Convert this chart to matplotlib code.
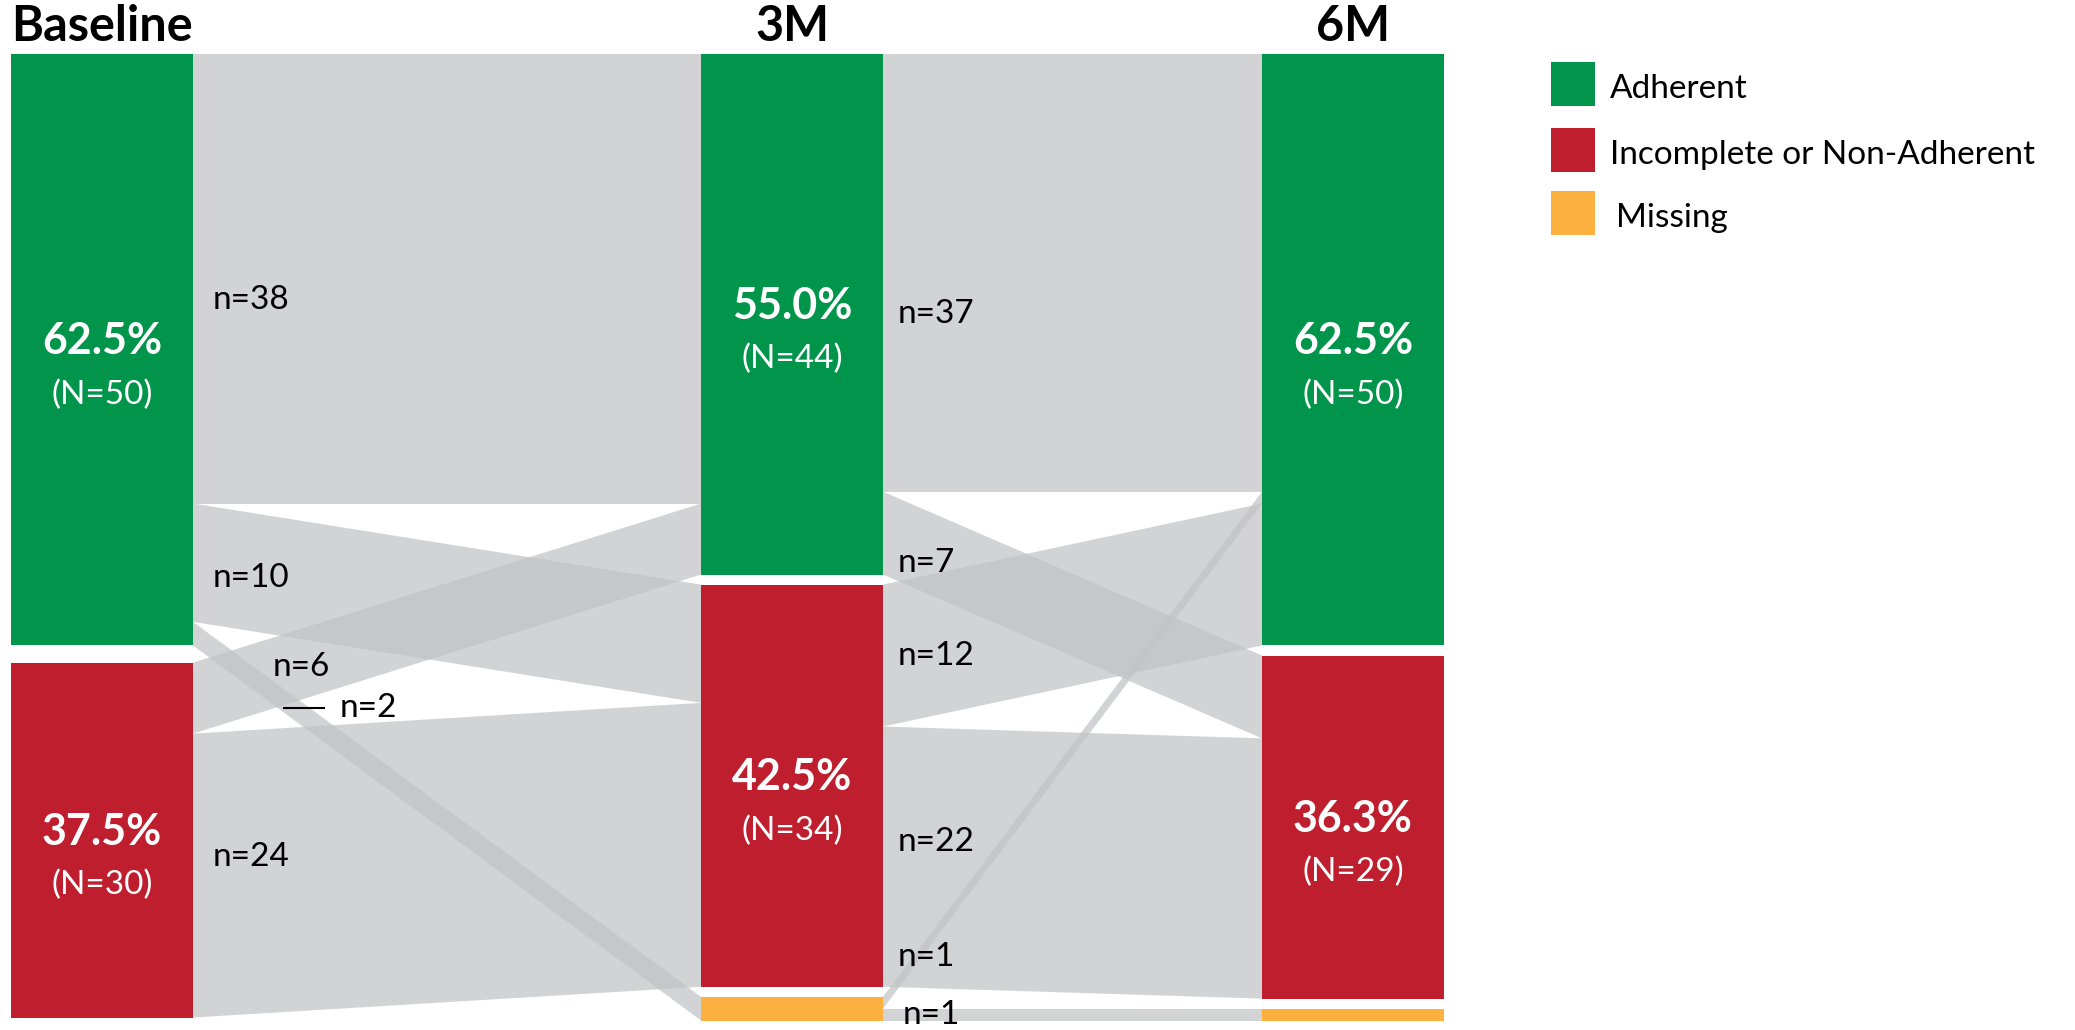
"""
Adherence transitions over follow-up (Baseline -> 3M -> 6M), drawn as a
straight-band alluvial chart.
"""

import math

import matplotlib.pyplot as plt
from matplotlib.patches import Polygon, Rectangle

STAGES = ["Baseline", "3M", "6M"]
STATUSES = ["Adherent", "Incomplete or Non-Adherent", "Missing"]

# patients in each status at each stage (same order as STATUSES)
BASELINE_COUNTS = [50, 30, 0]
M3_COUNTS = [44, 34, 2]
M6_COUNTS = [50, 29, 1]

# transitions: rows = status before, columns = status after
FLOWS_BASELINE_TO_3M = [
    [38, 10, 2],
    [6, 24, 0],
    [0, 0, 0],
]
FLOWS_3M_TO_6M = [
    [37, 7, 0],
    [12, 22, 0],
    [1, 0, 1],
]

STATUS_COLORS = ["#00954A", "#BE1E2D", "#FBB040"]
FLOW_COLOR = (193 / 255, 195 / 255, 197 / 255)
FLOW_ALPHA = 0.72

# layout, x in pixels, y in patients
FIG_W, FIG_H = 2075, 1030
PX_PER_PATIENT = 11.83
TOP_PX = 54
BAR_LEFT = [11, 701, 1262]
BAR_WIDTH = 182
NODE_GAP = [1.45, 0.85, 0.85]
LABEL_PAD = 20

# order in which incoming bands are stacked inside a node (stage, status)
INCOMING_ORDER = {(2, 0): [0, 2, 1]}

# hand tweaks for flow labels: (step, src, dst) -> (dx px, dy patients)
LABEL_NUDGE = {
    (0, 0, 0): (0, 1.8),
    (0, 0, 1): (0, 1.3),
    (0, 1, 0): (60, -2.6),
    (0, 1, 1): (0, -1.6),
    (1, 0, 0): (-5, 3.5),
    (1, 0, 1): (-5, 2.5),
    (1, 1, 0): (-5, 0),
    (1, 1, 1): (-5, -1.2),
    (1, 2, 0): (-5, -3.9),
    (1, 2, 1): (-8, 0),
}


def px_to_y(px: float) -> float:
    return (px - TOP_PX) / PX_PER_PATIENT


def node_positions(counts, gap):
    tops = []
    y = 0.0
    for n in counts:
        tops.append(y)
        if n > 0:
            y += n + gap
    return tops


def fmt_pct(n, total):
    pct = n / total * 100
    return f"{math.floor(pct * 10 + 0.5) / 10:.1f}%"


plt.rcParams["font.family"] = ["Lato", "DejaVu Sans"]

fig = plt.figure(figsize=(FIG_W / 100, FIG_H / 100), dpi=100)
ax = fig.add_axes([0, 0, 1, 1])
ax.set_xlim(0, FIG_W)
ax.set_ylim(px_to_y(FIG_H), px_to_y(0))
ax.axis("off")

stage_counts = [BASELINE_COUNTS, M3_COUNTS, M6_COUNTS]
stage_flows = [FLOWS_BASELINE_TO_3M, FLOWS_3M_TO_6M]
tops = [node_positions(c, g) for c, g in zip(stage_counts, NODE_GAP)]
total = sum(BASELINE_COUNTS)

# bands between stages
for step, flows in enumerate(stage_flows):
    src_stage, dst_stage = step, step + 1
    x0 = BAR_LEFT[src_stage] + BAR_WIDTH
    x1 = BAR_LEFT[dst_stage]

    # where each band enters its target node
    dst_offsets = {}
    for dst in range(len(STATUSES)):
        y = tops[dst_stage][dst]
        for src in INCOMING_ORDER.get((dst_stage, dst), [0, 1, 2]):
            dst_offsets[(src, dst)] = y
            y += flows[src][dst]

    for src in range(len(STATUSES)):
        y_src = tops[src_stage][src]
        for dst in range(len(STATUSES)):
            n = flows[src][dst]
            if n == 0:
                continue
            y_dst = dst_offsets[(src, dst)]
            band = Polygon(
                [(x0, y_src), (x1, y_dst), (x1, y_dst + n), (x0, y_src + n)],
                closed=True,
                facecolor=FLOW_COLOR,
                edgecolor="none",
                alpha=FLOW_ALPHA,
                zorder=1,
            )
            ax.add_patch(band)

            # label near the source end of the band
            dx, dy = LABEL_NUDGE.get((step, src, dst), (0, 0))
            ly = y_src + n / 2 + dy
            lx = x0 + LABEL_PAD + dx
            if (step, src, dst) == (0, 0, 2):
                # thin band: label sits off to the side with a short leader
                ly = px_to_y(708)
                ax.plot([284, 324], [ly, ly], color="black", lw=1.5, zorder=3)
                lx = 340
            ax.text(lx, ly, f"n={n}", fontsize=24, color="black",
                    ha="left", va="center", zorder=3)
            y_src += n

# status bars with percent labels
for s, counts in enumerate(stage_counts):
    for k, n in enumerate(counts):
        if n == 0:
            continue
        ax.add_patch(Rectangle((BAR_LEFT[s], tops[s][k]), BAR_WIDTH, n,
                               facecolor=STATUS_COLORS[k], edgecolor="none",
                               zorder=2))
        if k == 2:
            continue
        cx = BAR_LEFT[s] + BAR_WIDTH / 2
        cy = tops[s][k] + n / 2
        ax.text(cx, cy - 0.7, fmt_pct(n, total), fontsize=31,
                fontweight="bold", color="white", ha="center", va="center",
                zorder=3)
        ax.text(cx, cy + 3.8, f"(N={n})", fontsize=24, color="white",
                ha="center", va="center", zorder=3)

    ax.text(BAR_LEFT[s] + BAR_WIDTH / 2, px_to_y(27), STAGES[s],
            fontsize=35, fontweight="bold", ha="center", va="center")

# legend
legend_y = [84, 150, 213]
for k, label in enumerate(STATUSES):
    yc = px_to_y(legend_y[k])
    half = 22 / PX_PER_PATIENT
    ax.add_patch(Rectangle((1551, yc - half), 44, 2 * half,
                           facecolor=STATUS_COLORS[k], edgecolor="none"))
    ax.text(1610 if k < 2 else 1616, yc + 0.45, label, fontsize=24,
            ha="left", va="center")

fig.savefig("out.png", dpi=100)
